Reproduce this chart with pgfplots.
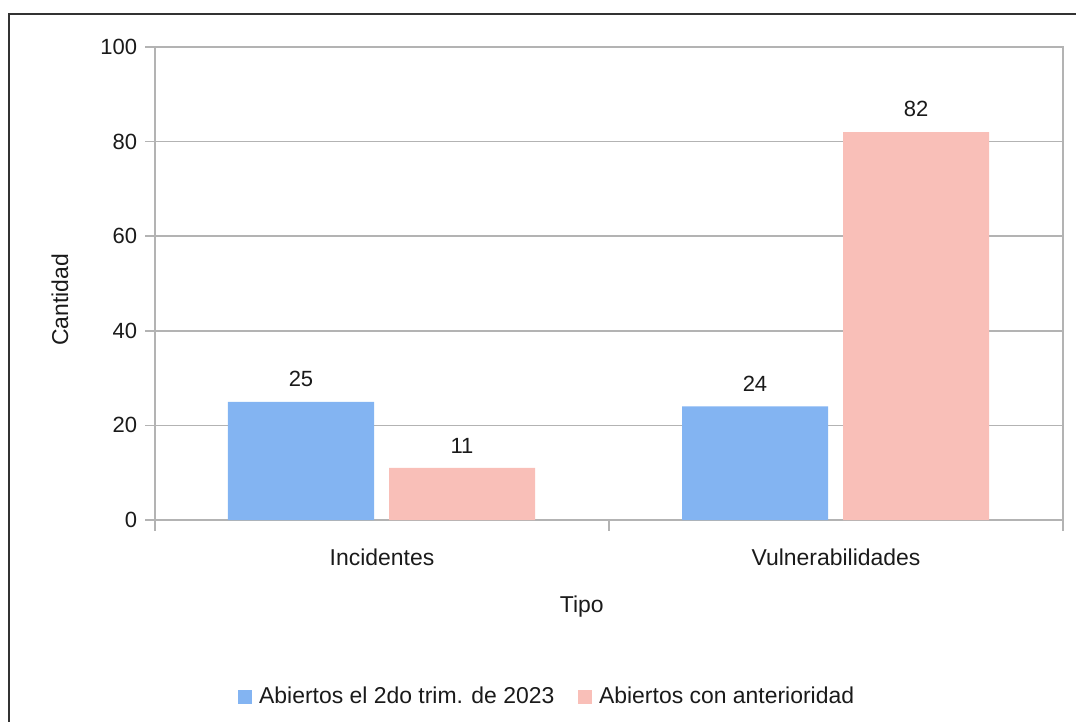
\documentclass[border=0pt]{standalone}
\usepackage{pgfplots}
\pgfplotsset{compat=1.18}
\usepackage{fontspec}
\setmainfont{Liberation Sans}
\definecolor{barblue}{RGB}{131,180,242}
\definecolor{barpink}{RGB}{249,191,184}
\definecolor{gridgray}{RGB}{179,179,179}
\definecolor{txt}{RGB}{26,26,26}
\begin{document}
\fontsize{17.2}{20.6}\selectfont
\begin{tikzpicture}
\useasboundingbox (0,0) rectangle (807pt,541.5pt);
\draw[color={rgb,255:red,51;green,51;blue,51}, line width=1.1pt] (6.75pt,0) -- (6.75pt,531pt) -- (807pt,531pt);
\begin{axis}[
  at={(116.25pt,151.5pt)}, anchor=south west,
  scale only axis,
  width=681pt, height=354.75pt,
  xmin=-0.5, xmax=1.5,
  ymin=0, ymax=100,
  ytick={0,20,40,60,80,100},
  xtick={0,1},
  xticklabels={Incidentes,Vulnerabilidades},
  minor xtick={-0.5,0.5,1.5},
  xtick pos=lower, ytick pos=left,
  major x tick style={draw=none},
  minor tick length=8pt,
  major tick length=7.5pt,
  tick align=outside,
  tick style={gridgray, line width=1.1pt},
  axis line style={gridgray, line width=1.1pt},
  ymajorgrids,
  major grid style={gridgray, line width=1.1pt},
  ticklabel style={font=\fontsize{16.5}{19.8}\selectfont, text=txt},
  yticklabel style={xshift=0pt},
  xticklabel style={yshift=-8pt, font=\fontsize{17.2}{20.6}\selectfont},
  /pgf/number format/assume math mode=true,
  xlabel={Tipo},
  ylabel={Cantidad},
  label style={font=\fontsize{17.2}{20.6}\selectfont, text=txt},
  xlabel style={at={(axis description cs:0.470,-0.184)}, anchor=center},
  ylabel style={at={(axis description cs:-0.1046,0.465)}, anchor=center, rotate=0},
  ybar,
  bar width=109.5pt,
  nodes near coords,
  every node near coord/.append style={anchor=south, inner sep=0pt, yshift=11pt, font=\fontsize{16.5}{19.8}\selectfont, text=txt},
  legend columns=2,
  legend style={at={(0.432,-0.374)}, anchor=center, draw=none, fill=none,
    font=\fontsize{17.2}{20.6}\selectfont, text=txt,
    /tikz/every odd column/.append style={column sep=3.5pt},
    /tikz/every even column/.append style={column sep=15.5pt}},
  legend image code/.code={\fill[#1] (0pt,-5.25pt) rectangle (10.5pt,5.25pt);},
  clip=false,
]
\addplot[fill=barblue, draw=none, bar shift=-60.75pt] coordinates {(0,25) (1,24)};
\addplot[fill=barpink, draw=none, bar shift=60pt] coordinates {(0,11) (1,82)};
\legend{Abiertos el 2do trim. de 2023, Abiertos con anterioridad}
\end{axis}
\end{tikzpicture}
\end{document}
